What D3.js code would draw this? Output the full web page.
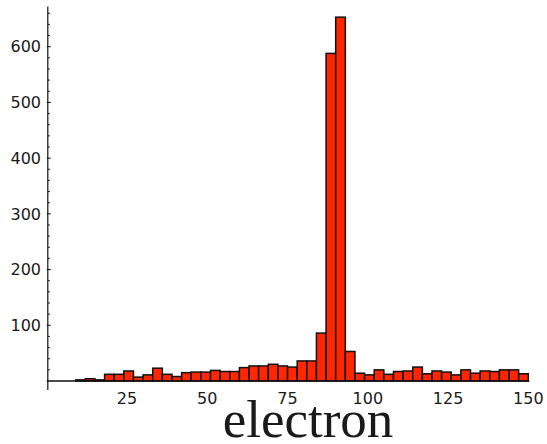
<!DOCTYPE html>
<html>
<head>
<meta charset="utf-8">
<script src="https://cdn.jsdelivr.net/npm/d3@7"></script>
<style>
  body { margin: 0; background: #fff; }
  svg { display: block; }
</style>
</head>
<body>
<script>
const w = 547;
const h = 444;

// histogram of "electron", bins of width 3 from 0 to 150
const binStarts = [0,3,6,9,12,15,18,21,24,27,30,33,36,39,42,45,48,51,54,57,
  60,63,66,69,72,75,78,81,84,87,90,93,96,99,102,105,108,111,114,117,
  120,123,126,129,132,135,138,141,144,147];
const binWidth = 3;
const counts = [0,0,0,2,4,2,12,12,18,7,11,23,12,8,15,16,16,19,17,17,
  24,27,27,30,27,25,36,36,86,588,653,53,14,11,20,12,17,18,25,13,
  18,16,11,20,14,18,17,20,20,13];
const xTicks = [25,50,75,100,125,150];
const yTicks = [100,200,300,400,500,600];
const yMinor = [20,40,60,80,120,140,160,180,220,240,260,280,320,340,360,380,
  420,440,460,480,520,540,560,580,620,640,660];
const xLabel = "electron";

const xScale = d3.scaleLinear().domain([0,150]).range([46.8,528.3]);
const yScale = d3.scaleLinear().domain([0,600]).range([381,46.7]);

const svg = d3.select("body").append("svg")
  .attr("width", w)
  .attr("height", h);

// bars
svg.selectAll("rect.bar")
  .data(counts)
  .enter()
  .append("rect")
  .attr("class","bar")
  .attr("x", (d,i) => xScale(binStarts[i]))
  .attr("width", (d,i) => xScale(binStarts[i] + binWidth) - xScale(binStarts[i]))
  .attr("y", (d) => yScale(d))
  .attr("height", (d) => yScale(0) - yScale(d))
  .attr("fill", "#ff2600")
  .attr("stroke", "#111")
  .attr("stroke-width", 1.5);

// x axis line
svg.append("line")
  .attr("x1", xScale(0)).attr("x2", xScale(150) + 1)
  .attr("y1", yScale(0)).attr("y2", yScale(0))
  .attr("stroke", "#111").attr("stroke-width", 1.5);

// y axis line
svg.append("line")
  .attr("x1", xScale(0) + 1).attr("x2", xScale(0) + 1)
  .attr("y1", yScale(672)).attr("y2", yScale(-16))
  .attr("stroke", "#111").attr("stroke-width", 1.2);

svg.selectAll("line.ymaj")
  .data(yTicks).enter().append("line")
  .attr("x1", xScale(0)).attr("x2", xScale(0) + 4)
  .attr("y1", (d) => yScale(d)).attr("y2", (d) => yScale(d))
  .attr("stroke", "#111").attr("stroke-width", 1);

svg.selectAll("line.ymin")
  .data(yMinor).enter().append("line")
  .attr("x1", xScale(0) + 1).attr("x2", xScale(0) + 3)
  .attr("y1", (d) => yScale(d)).attr("y2", (d) => yScale(d))
  .attr("stroke", "#111").attr("stroke-width", 1);

// tick labels
svg.selectAll("text.ylab")
  .data(yTicks).enter().append("text")
  .attr("x", 41)
  .attr("y", (d) => yScale(d))
  .attr("dy", "0.36em")
  .attr("text-anchor", "end")
  .attr("font-family", "DejaVu Sans")
  .attr("font-size", 16)
  .attr("fill", "#1a1a1a")
  .text((d) => d);

svg.selectAll("text.xlab")
  .data(xTicks).enter().append("text")
  .attr("x", (d) => xScale(d))
  .attr("y", 398)
  .attr("dy", "0.36em")
  .attr("text-anchor", "middle")
  .attr("font-family", "DejaVu Sans")
  .attr("font-size", 16)
  .attr("fill", "#1a1a1a")
  .text((d) => d);

svg.append("text")
  .attr("x", 308)
  .attr("y", 437)
  .attr("text-anchor", "middle")
  .attr("font-family", "Liberation Serif")
  .attr("font-size", 53)
  .attr("fill", "#1a1a1a")
  .text(xLabel);
</script>
</body>
</html>
